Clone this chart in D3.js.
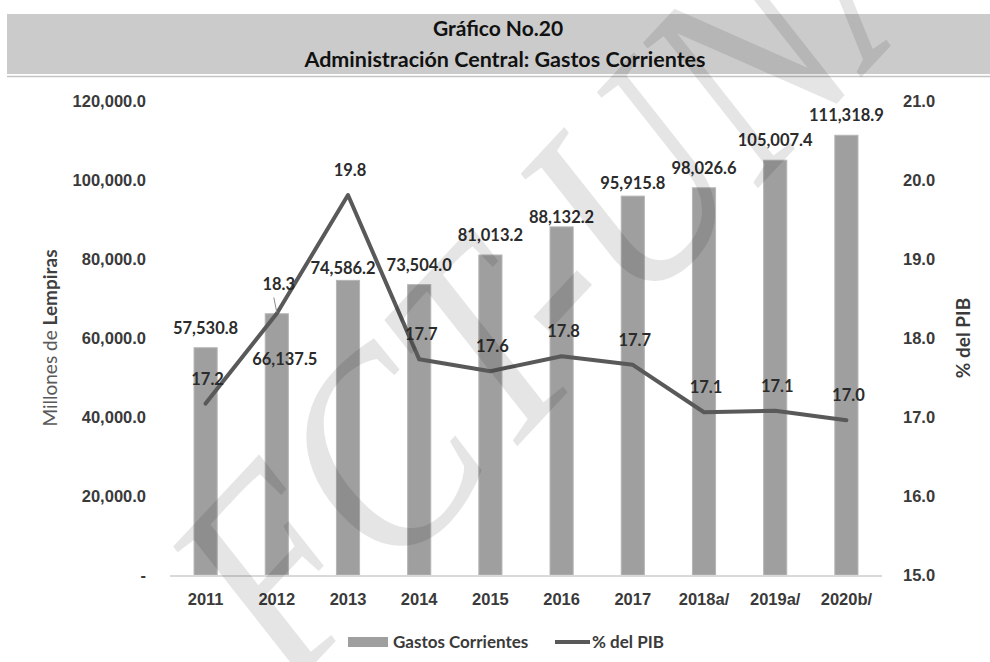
<!DOCTYPE html>
<html>
<head>
<meta charset="utf-8">
<script src="https://cdn.jsdelivr.net/npm/d3@7"></script>
<style>
  body { margin: 0; background: #fff; }
  svg { font-family: Lato, "Open Sans", sans-serif; }
</style>
</head>
<body>
<div id="chart"></div>
<script>
// Data
var years = ["2011", "2012", "2013", "2014", "2015", "2016", "2017", "2018a/", "2019a/", "2020b/"];
var gastos = [57530.8, 66137.5, 74586.2, 73504.0, 81013.2, 88132.2, 95915.8, 98026.6, 105007.4, 111318.9];
var pctPib = [17.17, 18.31, 19.81, 17.73, 17.58, 17.77, 17.66, 17.06, 17.08, 16.96];
var leftTicks = [0, 20000, 40000, 60000, 80000, 100000, 120000];
var rightTicks = [15, 16, 17, 18, 19, 20, 21];

var svgWidth = 990;
var svgHeight = 662;

// plot area
var plot = { left: 170, right: 882, top: 101, bottom: 575 };

var svg = d3.select("#chart")
  .append("svg")
  .attr("width", svgWidth)
  .attr("height", svgHeight);

// title band
svg.append("rect")
  .attr("x", 7).attr("y", 14)
  .attr("width", svgWidth - 7).attr("height", 60)
  .attr("fill", "#cbcbcb");
svg.append("line")
  .attr("x1", 7).attr("x2", svgWidth)
  .attr("y1", 76.5).attr("y2", 76.5)
  .attr("stroke", "#c4c4c4").attr("stroke-width", 1.5);

svg.append("text")
  .attr("x", 498).attr("y", 36)
  .attr("text-anchor", "middle")
  .attr("font-size", "21px").attr("font-weight", "bold")
  .attr("fill", "#111")
  .text("Gráfico No.20");
svg.append("text")
  .attr("x", 505).attr("y", 67)
  .attr("text-anchor", "middle")
  .attr("font-size", "21.5px").attr("font-weight", "bold")
  .attr("fill", "#111")
  .text("Administración Central: Gastos Corrientes");

// scales
var x = d3.scaleBand()
  .domain(years)
  .range([plot.left, plot.right])
  .paddingInner(0.675)
  .paddingOuter(0.3375);

var yLeft = d3.scaleLinear()
  .domain([0, 120000])
  .range([plot.bottom, plot.top]);

var yRight = d3.scaleLinear()
  .domain([15, 21])
  .range([plot.bottom, plot.top]);

var fmtBig = d3.format(",.1f");
var fmtPct = d3.format(".1f");

function styleTicks(g) {
  g.select(".domain").remove();
  g.selectAll("text")
    .attr("font-family", null)
    .attr("font-size", "16.5px").attr("font-weight", "bold")
    .attr("fill", "#3a3a3a");
}

// left axis
var leftAxis = d3.axisLeft(yLeft)
  .tickValues(leftTicks)
  .tickSize(0)
  .tickPadding(24)
  .tickFormat(d => d === 0 ? "-   " : fmtBig(d));

svg.append("g")
  .attr("transform", `translate(${plot.left}, 0)`)
  .call(leftAxis)
  .call(styleTicks);

// right axis
var rightAxis = d3.axisRight(yRight)
  .tickValues(rightTicks)
  .tickSize(0)
  .tickPadding(21)
  .tickFormat(fmtPct);

svg.append("g")
  .attr("transform", `translate(${plot.right}, 0)`)
  .call(rightAxis)
  .call(styleTicks);

// bottom axis
var bottomAxis = d3.axisBottom(x)
  .tickSize(0)
  .tickPadding(18);

svg.append("g")
  .attr("transform", `translate(0, ${plot.bottom})`)
  .call(bottomAxis)
  .call(styleTicks);

// axis titles
var leftTitle = svg.append("text")
  .attr("transform", `translate(57, ${(plot.top + plot.bottom) / 2}) rotate(-90)`)
  .attr("text-anchor", "middle")
  .attr("font-size", "19px")
  .attr("fill", "#595959");
leftTitle.append("tspan").text("Millones de ");
leftTitle.append("tspan").attr("font-weight", "bold").attr("fill", "#404040").text("Lempiras");

svg.append("text")
  .attr("transform", `translate(970, ${(plot.top + plot.bottom) / 2}) rotate(-90)`)
  .attr("text-anchor", "middle")
  .attr("font-size", "19px").attr("font-weight", "bold")
  .attr("fill", "#3a3a3a")
  .text("% del PIB");

// bars
svg.append("g").selectAll("rect")
  .data(gastos)
  .enter()
  .append("rect")
  .attr("x", (d, i) => x(years[i]))
  .attr("y", d => yLeft(d))
  .attr("width", x.bandwidth())
  .attr("height", d => yLeft(0) - yLeft(d))
  .attr("fill", "#9f9f9f")
  .attr("stroke", "#b5b5b5")
  .attr("stroke-width", 1);

// baseline
svg.append("line")
  .attr("x1", plot.left).attr("x2", plot.right)
  .attr("y1", plot.bottom + 1).attr("y2", plot.bottom + 1)
  .attr("stroke", "#d9d9d9").attr("stroke-width", 2);

// line series
var line = d3.line()
  .x((d, i) => x(years[i]) + x.bandwidth() / 2)
  .y(d => yRight(d));

svg.append("path")
  .datum(pctPib)
  .attr("d", line)
  .attr("fill", "none")
  .attr("stroke", "#595959")
  .attr("stroke-width", 4)
  .attr("stroke-linejoin", "round")
  .attr("stroke-linecap", "round");

// label nudges (as placed in the original workbook)
var barNudge = { 1: [8, 65], 2: [-5, 8], 5: [0, 10], 6: [0, 7] };
var cx = i => x(years[i]) + x.bandwidth() / 2;

svg.append("g").selectAll("text")
  .data(gastos)
  .enter()
  .append("text")
  .attr("x", (d, i) => cx(i) + (barNudge[i] ? barNudge[i][0] : 0))
  .attr("y", (d, i) => yLeft(d) - 14 + (barNudge[i] ? barNudge[i][1] : 0))
  .attr("text-anchor", "middle")
  .attr("font-size", "16.5px").attr("font-weight", "bold")
  .attr("fill", "#2b2b2b")
  .text(d => fmtBig(d));

var pctNudge = { 1: [0, -5] };

svg.append("g").selectAll("text")
  .data(pctPib)
  .enter()
  .append("text")
  .attr("x", (d, i) => cx(i) + 2 + (pctNudge[i] ? pctNudge[i][0] : 0))
  .attr("y", (d, i) => yRight(d) - 19 + (pctNudge[i] ? pctNudge[i][1] : 0))
  .attr("text-anchor", "middle")
  .attr("font-size", "16.5px").attr("font-weight", "bold")
  .attr("fill", "#2b2b2b")
  .text(d => fmtPct(d));

// leader line for the 2012 label
svg.append("line")
  .attr("x1", cx(1) - 3).attr("y1", yRight(pctPib[1]) - 16)
  .attr("x2", cx(1)).attr("y2", yRight(pctPib[1]) - 1)
  .attr("stroke", "#8c8c8c").attr("stroke-width", 1);

// legend
var legend = svg.append("g").attr("transform", "translate(0, 642)");
legend.append("rect")
  .attr("x", 348).attr("y", -5)
  .attr("width", 40).attr("height", 10)
  .attr("fill", "#9f9f9f");
legend.append("text")
  .attr("x", 393).attr("y", 6)
  .attr("font-size", "17px").attr("font-weight", "bold")
  .attr("fill", "#3a3a3a")
  .text("Gastos Corrientes");
legend.append("line")
  .attr("x1", 555).attr("x2", 590)
  .attr("y1", 0).attr("y2", 0)
  .attr("stroke", "#595959").attr("stroke-width", 4);
legend.append("text")
  .attr("x", 592).attr("y", 6)
  .attr("font-size", "17px").attr("font-weight", "bold")
  .attr("fill", "#3a3a3a")
  .text("% del PIB");

// watermark
svg.append("text")
  .attr("transform", "translate(290, 690) rotate(-47)")
  .style("font-family", "'Liberation Serif', 'DejaVu Serif', serif")
  .style("font-style", "italic")
  .attr("font-size", "280px")
  .attr("textLength", 1000)
  .attr("lengthAdjust", "spacingAndGlyphs")
  .attr("fill", "#000")
  .attr("fill-opacity", 0.1)
  .text("FCT-UNA");
</script>
</body>
</html>
